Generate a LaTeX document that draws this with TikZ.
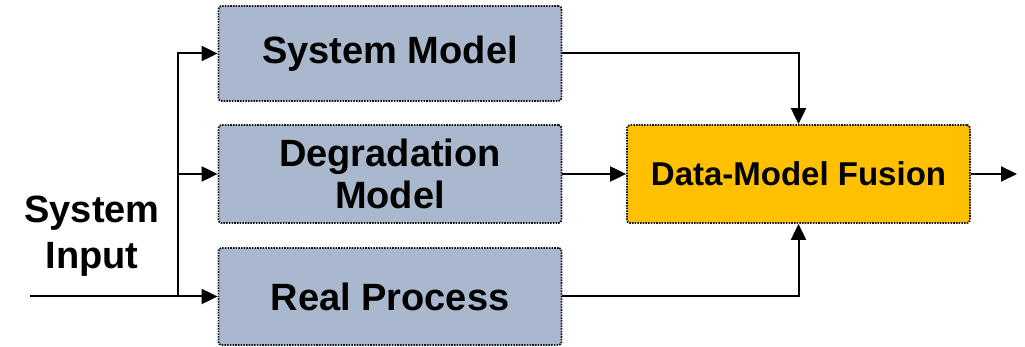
\documentclass[tikz,border=0pt]{standalone}
\usepackage{fontspec}
\setmainfont{Liberation Sans}
\usetikzlibrary{arrows.meta}
\definecolor{boxblue}{HTML}{A9B8CC}
\definecolor{fuseorange}{HTML}{FFC000}
\begin{document}
\begin{tikzpicture}[x=1pt,y=-1pt,
  blk/.style={draw=black!90, line width=1.8pt, dash pattern=on 1.6pt off 1.1pt, rounded corners=3pt,
    fill=boxblue, minimum width=343pt, inner sep=0pt, align=center,
    font=\fontsize{38}{42}\selectfont\bfseries},
  fuse/.style={blk, fill=fuseorange, font=\fontsize{33}{38}\selectfont\bfseries},
  conn/.style={line width=2pt, -{Triangle[length=16pt,width=15pt]}},
  wire/.style={line width=2pt}]
\useasboundingbox (0,0) rectangle (1025,347);
\node[blk, minimum height=95pt] (SM) at (390,53.5) {System Model};
\node[blk, minimum height=98pt] (DM) at (390,174) {Degradation\\Model};
\node[blk, minimum height=97pt] (RP) at (390,296.5) {Real Process};
\node[fuse, minimum width=343pt, minimum height=98pt] (F) at (798.5,174) {Data-Model Fusion};
\node[font=\fontsize{38}{46}\selectfont\bfseries, align=center] (SI) at (92,236) {System\\Input};
\coordinate (in) at (30,296.5);
\coordinate (bus) at (178,296.5);
\coordinate (out) at (1017,174);
\draw[conn] (in) -- (RP.west);
\draw[conn] (bus) |- (SM.west);
\draw[conn] (bus |- DM.west) -- (DM.west);
\draw[conn] (SM.east) -| (F.north);
\draw[conn] (DM.east) -- (F.west);
\draw[conn] (RP.east) -| (F.south);
\draw[conn] (F.east) -- (out);
\end{tikzpicture}
\end{document}
